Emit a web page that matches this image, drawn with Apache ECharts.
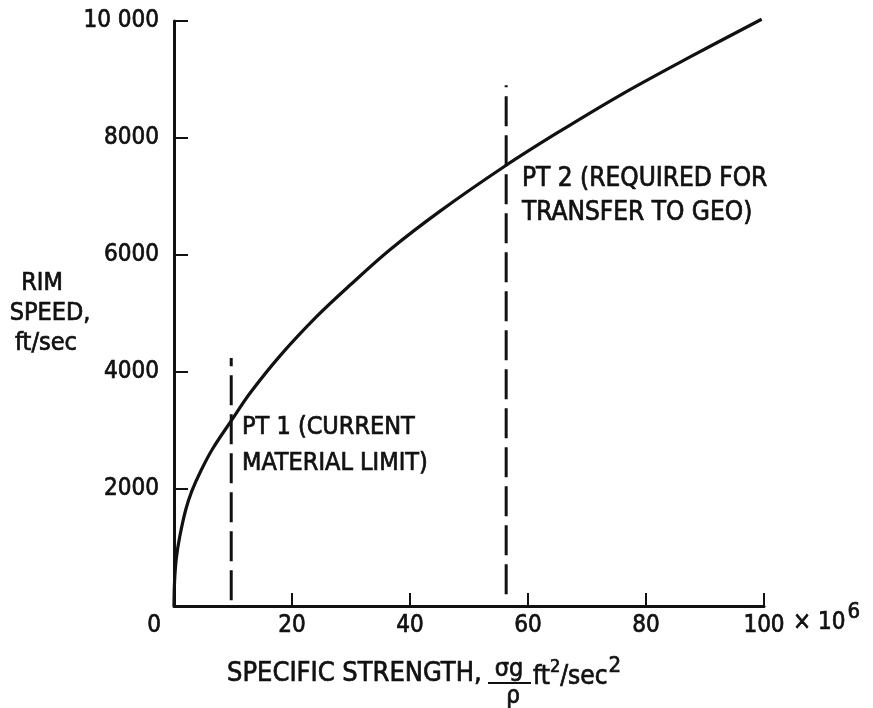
<!DOCTYPE html>
<html>
<head>
<meta charset="utf-8">
<script src="https://cdn.jsdelivr.net/npm/echarts@6/dist/echarts.min.js"></script>
<style>html,body{margin:0;padding:0;background:#fff;}#c{width:873px;height:708px;}</style>
</head>
<body>
<div id="c"></div>
<script>
// ---- data ----
const curveX = [0, 0.1, 0.4, 1, 2, 3, 4.5, 6.5, 9.8, 12.9, 18, 24.2, 30, 36.6, 45.1, 55.8, 65, 75.6, 87, 99.6];
const curveY = [0, 430, 820, 1200, 1650, 1960, 2300, 2680, 3180, 3640, 4280, 4950, 5500, 6090, 6750, 7500, 8090, 8730, 9360, 10030];
const pt1X = [9.7, 9.7];
const pt1Y = [100, 4240];
const pt2X = [56.3, 56.3];
const pt2Y = [200, 8900];
const pt1Text = ['PT 1 (CURRENT', 'MATERIAL LIMIT)'];
const pt2Text = ['PT 2 (REQUIRED FOR', 'TRANSFER TO GEO)'];
const yTitle = ['RIM', 'SPEED,', 'ft/sec'];

const FONT = "'DejaVu Sans Condensed', 'Liberation Sans Narrow', 'Liberation Sans', sans-serif";
const INK = '#111';
const BOLDEN = {stroke: INK, lineWidth: 0.7};

const zip = (xs, ys) => xs.map((x, i) => [x, ys[i]]);
const txt = (text, x, y, size, align) => ({
  type: 'text',
  style: Object.assign({text, x, y, fontSize: size, fontFamily: FONT, fill: INK,
    align: align || 'left', verticalAlign: 'middle'}, BOLDEN)
});

const chart = echarts.init(document.getElementById('c'), null, {renderer: 'canvas'});
chart.setOption({
  backgroundColor: '#fff',
  animation: false,
  grid: {left: 174, right: 109, top: 21, bottom: 102},
  xAxis: {
    type: 'value', min: 0, max: 100, interval: 20,
    axisLine: {show: true, lineStyle: {color: INK, width: 3}},
    axisTick: {show: true, inside: true, length: 13, lineStyle: {color: INK, width: 2}},
    splitLine: {show: false},
    axisLabel: {
      color: INK, fontSize: 24, fontFamily: FONT, margin: 8,
      textBorderColor: INK, textBorderWidth: 0.7,
      formatter: v => v === 0 ? '{z|0}' : String(v),
      rich: {z: {fontSize: 24, fontFamily: FONT, color: INK, textBorderColor: INK, textBorderWidth: 0.7, padding: [0, 40, 0, 0]}}
    }
  },
  yAxis: {
    type: 'value', min: 0, max: 10000, interval: 2000,
    axisLine: {show: true, lineStyle: {color: INK, width: 3}},
    axisTick: {show: true, inside: true, length: 14, lineStyle: {color: INK, width: 2}},
    splitLine: {show: false},
    axisLabel: {
      color: INK, fontSize: 24, fontFamily: FONT, margin: 15,
      textBorderColor: INK, textBorderWidth: 0.7,
      formatter: v => v === 0 ? '' : (v === 10000 ? '10 000' : String(v))
    }
  },
  series: [
    {
      type: 'line', data: zip(curveX, curveY), smooth: 0.35,
      showSymbol: false, clip: false,
      lineStyle: {color: INK, width: 3.2}
    },
    {
      type: 'line', data: zip(pt1X, pt1Y), showSymbol: false,
      lineStyle: {color: INK, width: 3, type: [30, 9]}
    },
    {
      type: 'line', data: zip(pt2X, pt2Y), showSymbol: false,
      lineStyle: {color: INK, width: 3, type: [30, 9]}
    }
  ],
  graphic: [
    txt(pt1Text[0], 242, 427, 25),
    txt(pt1Text[1], 242, 463, 25),
    txt(pt2Text[0], 522, 179, 26),
    txt(pt2Text[1], 522, 213, 26),
    txt(yTitle[0], 42, 283, 25, 'center'),
    txt(yTitle[1], 50, 313, 25, 'center'),
    txt(yTitle[2], 46, 343, 25, 'center'),
    // x axis title
    txt('SPECIFIC STRENGTH,', 227, 674, 27),
    txt('σg', 509, 669, 25, 'center'),
    {type: 'line', shape: {x1: 488, y1: 683, x2: 531, y2: 683}, style: {stroke: INK, lineWidth: 2}},
    txt('ρ', 513, 697, 24, 'center'),
    {type: 'text', style: Object.assign({
      text: '{n|ft}{s|2}{n|/sec}{t|2}', x: 533, y: 677, fill: INK, verticalAlign: 'middle',
      rich: {
        n: {fontSize: 26, fontFamily: FONT, fill: INK},
        s: {fontSize: 18, fontFamily: FONT, fill: INK, padding: [0, 0, 20, 0]},
        t: {fontSize: 22, fontFamily: FONT, fill: INK, padding: [0, 0, 22, 1]}
      }
    }, BOLDEN)},
    // multiplier
    {type: 'text', style: Object.assign({
      text: '{n|× 10}{s|6}', x: 793, y: 623, fill: INK, verticalAlign: 'middle',
      rich: {
        n: {fontSize: 24, fontFamily: FONT, fill: INK},
        s: {fontSize: 22, fontFamily: FONT, fill: INK, padding: [0, 0, 22, 2]}
      }
    }, BOLDEN)}
  ]
});
</script>
</body>
</html>
